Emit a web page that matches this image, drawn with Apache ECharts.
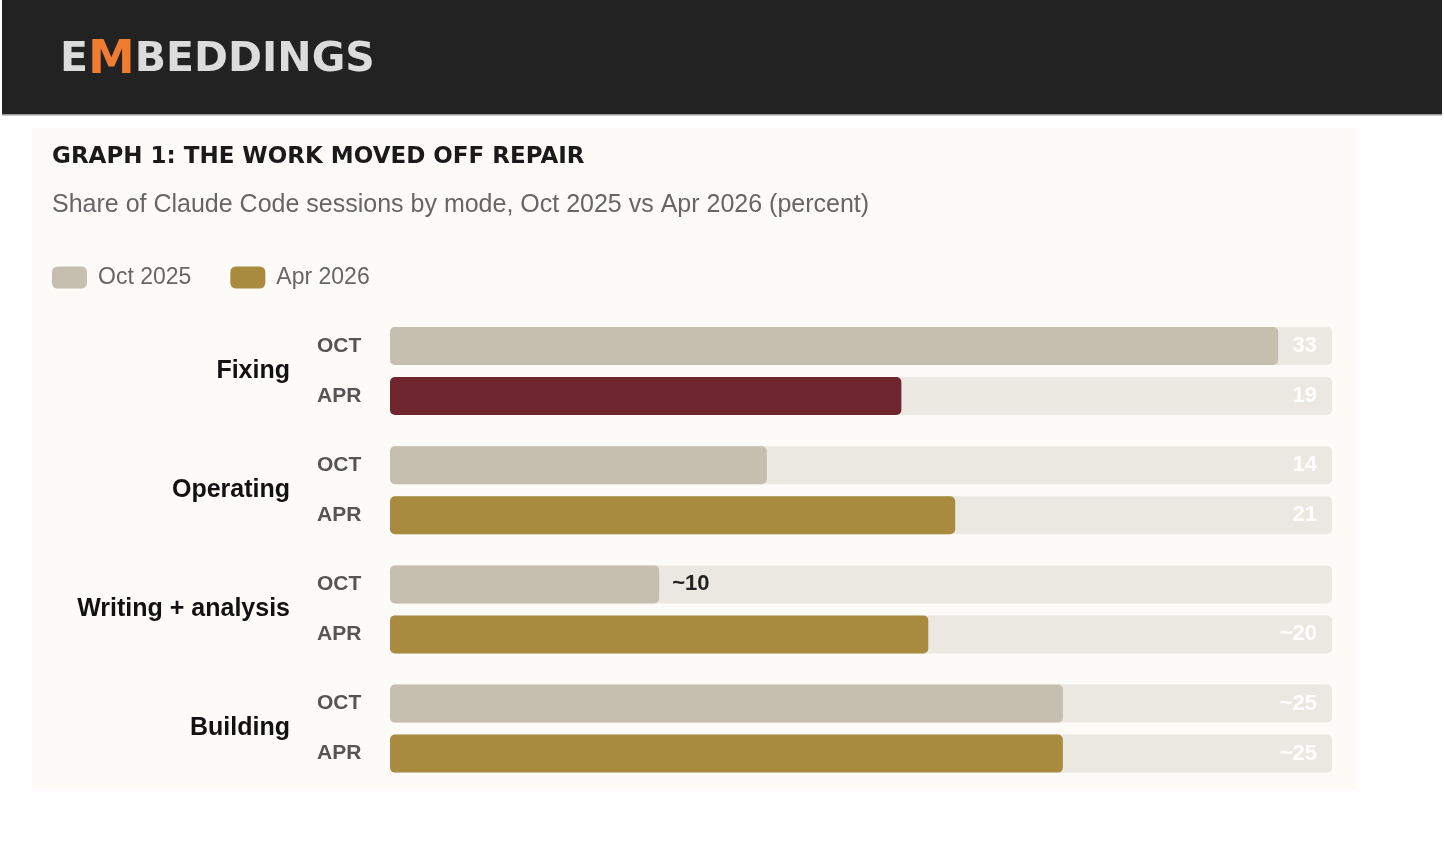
<!DOCTYPE html>
<html>
<head>
<meta charset="utf-8">
<title>Graph 1: The work moved off repair</title>
<script src="https://cdn.jsdelivr.net/npm/echarts@6/dist/echarts.min.js"></script>
<style>
  html, body { margin: 0; padding: 0; background: #ffffff; }
  #chart { width: 1444px; height: 846px; }
</style>
</head>
<body>
<div id="chart"></div>
<script>
// data
var groups = ['Fixing', 'Operating', 'Writing + analysis', 'Building'];
var rows = ['OCT', 'APR'];
var seriesNames = ['Oct 2025', 'Apr 2026'];
var octValues = [33, 14, 10, 25];
var aprValues = [19, 21, 20, 25];
var octLabels = ['33', '14', '~10', '~25'];
var aprLabels = ['19', '21', '~20', '~25'];
var axisMax = 35;

var FONT = '"Liberation Sans", Arial, sans-serif';
var TRACK = '#ebe8e1';
var OCT_COLOR = '#c6beaf';
var APR_COLOR = '#a88b3e';
var FIX_COLOR = '#6e252e';
var OUTSIDE_BELOW = 12; // short bars carry their label outside

var myChart = echarts.init(document.getElementById('chart'));

var grids = [], xAxes = [], yAxes = [], series = [];

groups.forEach(function (name, g) {
    grids.push({ left: 390, right: 112, top: 321 + g * 119.2, height: 100 });
    xAxes.push({ type: 'value', gridIndex: g, min: 0, max: axisMax, show: false });
    yAxes.push({
        type: 'category', gridIndex: g, data: rows, inverse: true,
        axisLine: { show: false }, axisTick: { show: false }, splitLine: { show: false },
        axisLabel: { align: 'left', margin: 73, color: '#555555', fontFamily: FONT, fontSize: 21, fontWeight: 'bold' },
        name: name, nameLocation: 'middle', nameRotate: 0, nameGap: 100,
        nameTextStyle: { color: '#111111', fontFamily: FONT, fontSize: 25, fontWeight: 'bold', padding: [4, 0, 0, 0] }
    });

    var vals = [octValues[g], aprValues[g]];
    var labs = [octLabels[g], aprLabels[g]];

    // full-width track, its label sits at the right end
    series.push({
        name: 'track', type: 'bar', xAxisIndex: g, yAxisIndex: g,
        barWidth: 38, barGap: '-100%', silent: true,
        itemStyle: { color: TRACK, borderRadius: 5 },
        label: {
            show: true, position: 'insideRight', distance: 15,
            color: '#ffffff', fontFamily: FONT, fontSize: 22, fontWeight: 'bold',
            formatter: function (p) { return vals[p.dataIndex] < OUTSIDE_BELOW ? '' : labs[p.dataIndex]; }
        },
        data: [axisMax, axisMax]
    });

    [0, 1].forEach(function (r) {
        var d = ['-', '-'];
        var v = vals[r];
        if (r === 1 && g === 0) {
            d[r] = { value: v, itemStyle: { color: FIX_COLOR } };
        } else {
            d[r] = v;
        }
        series.push({
            name: seriesNames[r], type: 'bar', xAxisIndex: g, yAxisIndex: g,
            barWidth: 38, barGap: '-100%',
            itemStyle: { color: r === 0 ? OCT_COLOR : APR_COLOR, borderRadius: 5 },
            label: {
                show: v < OUTSIDE_BELOW, position: 'right', distance: 13,
                color: '#222222', fontFamily: FONT, fontSize: 22, fontWeight: 'bold',
                formatter: function () { return labs[r]; }
            },
            data: d
        });
    });
});

myChart.setOption({
    animation: false,
    backgroundColor: '#ffffff',
    graphic: [
        { type: 'rect', left: 2, top: 0, z: -10, shape: { width: 1440, height: 114 }, style: { fill: '#222222' } },
        { type: 'rect', left: 2, top: 114, z: -10, shape: { width: 1440, height: 1.5 }, style: { fill: '#9a9a9a' } },
        { type: 'rect', left: 32, top: 128, z: -10, shape: { width: 1325, height: 662 }, style: { fill: '#fcfbf8' } },
        {
            type: 'text', left: 60, top: 37, z: 10,
            style: {
                text: '{e|E}{m|M}{e|BEDDINGS}',
                rich: {
                    e: { fill: '#dcdcdc', fontFamily: '"DejaVu Sans", sans-serif', fontSize: 41, fontWeight: 'bold' },
                    m: { fill: '#ee7d32', fontFamily: '"DejaVu Sans", sans-serif', fontSize: 47, fontWeight: 'bold' }
                }
            }
        }
    ],
    title: [
        {
            text: 'GRAPH 1: THE WORK MOVED OFF REPAIR', left: 47, top: 141,
            textStyle: { color: '#1a1a1a', fontFamily: '"DejaVu Sans", sans-serif', fontSize: 23, fontWeight: 'bold' }
        },
        {
            text: 'Share of Claude Code sessions by mode, Oct 2025 vs Apr 2026 (percent)', left: 47, top: 188,
            textStyle: { color: '#666666', fontFamily: FONT, fontSize: 25, fontWeight: 'normal' }
        }
    ],
    legend: {
        data: seriesNames, left: 47, top: 261, icon: 'roundRect',
        itemWidth: 35, itemHeight: 22, itemGap: 39, selectedMode: false,
        textStyle: { color: '#666666', fontFamily: FONT, fontSize: 23, padding: [0, 0, 0, 6] }
    },
    grid: grids,
    xAxis: xAxes,
    yAxis: yAxes,
    series: series
});
</script>
</body>
</html>
